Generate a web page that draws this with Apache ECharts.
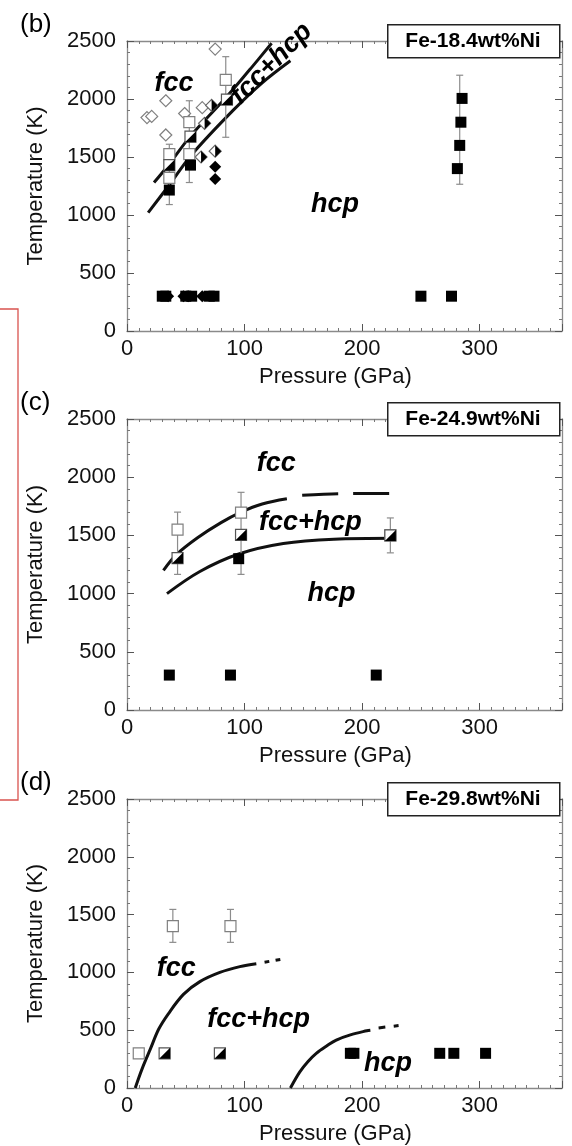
<!DOCTYPE html>
<html><head><meta charset="utf-8">
<script src="https://cdn.jsdelivr.net/npm/echarts@6/dist/echarts.min.js"></script>
<style>html,body{margin:0;padding:0;background:#fff}#c{width:572px;height:1146px}</style>
</head><body><div id="c"></div>
<script>
// ---------------- DATA ----------------
const panelTags = ['(b)', '(c)', '(d)'];
const panelTitles = ['Fe-18.4wt%Ni', 'Fe-24.9wt%Ni', 'Fe-29.8wt%Ni'];
const xTickLabels = [0, 100, 200, 300];
const yTickLabels = [0, 500, 1000, 1500, 2000, 2500];

// Panel (b) Fe-18.4wt%Ni  [pressure GPa, temperature K]
const bOpenDiamond = [[17,1840],[21,1850],[33,1985],[33,1690],[49,1875],[64,1925],[75,2430]];
const bHalfDiamond = [[63,1500],[66,1790],[72,1945],[75,1550]];
const bFilledDiamond = [[75,1415],[75,1310],[35,300],[48,300],[52,300],[64,300]];
const bOpenSquare = [[36,1525],[36,1320],[53,1800],[53,1525],[84,2165]];
const bHalfSquare = [[36,1430],[54,1675],[85,1995]];
const bFilledSquare = [[36,1215],[54,1430],[285,2005],[284,1800],[283,1600],[281,1400],
  [30,300],[33,300],[50,300],[55,300],[70,300],[74,300],[250,300],[276,300]];
const bErrorBars = [[36,1090,1610],[53,1280,1985],[84,1670,2365],[283,1265,2205]];
const bBoundaryUpper = [[23,1280],[36,1440],[54,1680],[84,2010],[105,2260],[123,2480]];
const bBoundaryLower = [[18,1020],[36,1260],[55,1520],[90,1900],[115,2140],[139,2330]];
const bRegionLabels = [['fcc',40,2135,0],['fcc+hcp',123,2305,45],['hcp',177,1086,0]];

// Panel (c) Fe-24.9wt%Ni
const cOpenSquare = [[43,1550],[97,1695],[224,1500]];
const cHalfSquare = [[43,1305],[97,1505],[224,1500]];
const cFilledSquare = [[95,1300],[36,300],[88,300],[212,300]];
const cErrorBars = [[43,1165,1700],[97,1165,1870],[224,1350,1650]];
const cBoundaryUpper = [[31,1200],[42,1335],[60,1480],[80,1610],[97,1700],[115,1770],[136,1815]];
const cBoundaryUpperDashed = [[149,1845],[180,1858],[223,1860]];
const cBoundaryLower = [[34,1000],[62,1190],[95,1340],[133,1430],[176,1467],[227,1475]];
const cRegionLabels = [['fcc',127,2119,0],['fcc+hcp',156,1609,0],['hcp',174,1002,0]];

// Panel (d) Fe-29.8wt%Ni
const dOpenSquare = [[39,1400],[88,1400],[10,300]];
const dHalfSquare = [[32,300],[79,300]];
const dFilledSquare = [[190,300],[193,300],[266,300],[278,300],[305,300]];
const dErrorBars = [[39,1260,1545],[88,1260,1545]];
const dBoundaryUpper = [[7,0],[13,170],[20,340],[27,510],[35,640],[48,810],[62,920],[79,1000],[96,1050],[110,1075]];
const dBoundaryUpperDashed = [[117,1088],[131,1113]];
const dBoundaryLower = [[139,0],[147,140],[154,230],[161,300],[170,365],[178,415],[190,460],[204,495],[207,500]];
const dBoundaryLowerDashed = [[214,520],[231,540]];
const dRegionLabels = [['fcc',42,1035,0],['fcc+hcp',112,588,0],['hcp',222,214,0]];

// ---------------- CHART ----------------
const FONT = "'Liberation Sans', Arial, Helvetica, sans-serif";
const X_MAX = 370, Y_MAX = 2500;
const GRIDS = [{top:41,height:290},{top:419,height:291},{top:799,height:289}];
const AXIS_COLOR = '#8a8a8a';
const FS = 22;

const panels = [
  {openDiamond:bOpenDiamond, halfDiamond:bHalfDiamond, filledDiamond:bFilledDiamond,
   openSquare:bOpenSquare, halfSquare:bHalfSquare, filledSquare:bFilledSquare, err:bErrorBars,
   solid:[bBoundaryUpper,bBoundaryLower], dashed:[], labels:bRegionLabels},
  {openDiamond:[], halfDiamond:[], filledDiamond:[],
   openSquare:cOpenSquare, halfSquare:cHalfSquare, filledSquare:cFilledSquare, err:cErrorBars,
   solid:[cBoundaryUpper,cBoundaryLower], dashed:[[cBoundaryUpperDashed,[36,15]]], labels:cRegionLabels},
  {openDiamond:[], halfDiamond:[], filledDiamond:[],
   openSquare:dOpenSquare, halfSquare:dHalfSquare, filledSquare:dFilledSquare, err:dErrorBars,
   solid:[dBoundaryUpper,dBoundaryLower], dashed:[[dBoundaryUpperDashed,[5,6]],[dBoundaryLowerDashed,[7,8]]], labels:dRegionLabels}
];

const grid = [], xAxis = [], yAxis = [], series = [], graphic = [];

panels.forEach((p, i) => {
  grid.push({left:127, width:435, top:GRIDS[i].top, height:GRIDS[i].height, outerBoundsMode:'none', containLabel:false});
  const xb = {gridIndex:i, type:'value', min:0, max:X_MAX, splitLine:{show:false},
              axisLabel:{show:false}, axisLine:{show:false,onZero:false}};
  const lineOn = {show:true, onZero:false, lineStyle:{color:AXIS_COLOR, width:1.3}};
  xAxis.push(Object.assign({}, xb, {position:'bottom', interval:10, axisLine:lineOn,
      axisTick:{inside:true,length:3,lineStyle:{color:'#777'}},
      axisLabel:{show:true, margin:7, fontSize:FS, color:'#111', fontFamily:FONT,
        formatter: v => xTickLabels.indexOf(v) >= 0 ? String(v) : ''},
      name:'Pressure (GPa)', nameLocation:'middle', nameGap:35,
      nameTextStyle:{fontSize:FS, color:'#111', fontFamily:FONT, padding:[0,18,0,0]}}));
  xAxis.push(Object.assign({}, xb, {position:'bottom', interval:100,
      axisTick:{inside:true,length:7,lineStyle:{color:'#555'}}}));
  xAxis.push(Object.assign({}, xb, {position:'top', interval:10, axisLine:lineOn,
      axisTick:{inside:true,length:3,lineStyle:{color:'#777'}}}));
  xAxis.push(Object.assign({}, xb, {position:'top', interval:100,
      axisTick:{inside:true,length:7,lineStyle:{color:'#555'}}}));
  const yb = {gridIndex:i, type:'value', min:0, max:Y_MAX, interval:500, splitLine:{show:false},
              axisLine:lineOn, axisTick:{inside:true,length:7,lineStyle:{color:'#555'}},
              minorTick:{show:true, splitNumber:5, length:3, lineStyle:{color:'#777'}}};
  yAxis.push(Object.assign({}, yb, {position:'left',
      axisLabel:{show:true, margin:11, fontSize:FS, color:'#111', fontFamily:FONT,
        formatter: v => yTickLabels.indexOf(v) >= 0 ? String(v) : ''},
      name:'Temperature (K)', nameLocation:'middle', nameGap:80,
      nameTextStyle:{fontSize:FS, color:'#111', fontFamily:FONT}}));
  yAxis.push(Object.assign({}, yb, {position:'right', axisLabel:{show:false}}));

  const xi = i*4, yi = i*2;
  const base = {xAxisIndex:xi, yAxisIndex:yi, silent:true, animation:false};

  p.solid.forEach(d => series.push(Object.assign({}, base, {type:'line', data:d, showSymbol:false,
      smooth:0.35, z:3, lineStyle:{color:'#111', width:3}})));
  p.dashed.forEach(([d, dash]) => series.push(Object.assign({}, base, {type:'line', data:d, showSymbol:false,
      smooth:0.3, z:3, lineStyle:{color:'#111', width:3, type:dash}})));

  series.push(Object.assign({}, base, {type:'custom', data:p.err, encode:{x:0, y:[1,2]}, z:4,
    renderItem: (params, api) => {
      const x = api.value(0);
      const a = api.coord([x, api.value(1)]), b = api.coord([x, api.value(2)]);
      const w = 3.5, st = {stroke:'#8c8c8c', lineWidth:1.2, fill:null};
      return {type:'group', children:[
        {type:'line', shape:{x1:a[0],y1:a[1],x2:b[0],y2:b[1]}, style:st},
        {type:'line', shape:{x1:a[0]-w,y1:a[1],x2:a[0]+w,y2:a[1]}, style:st},
        {type:'line', shape:{x1:b[0]-w,y1:b[1],x2:b[0]+w,y2:b[1]}, style:st}]};
    }}));

  const sc = (data, symbol, size, z, itemStyle, extra) => series.push(Object.assign({}, base,
      {type:'scatter', data, symbol, symbolSize:size, z, itemStyle:Object.assign({opacity:1}, itemStyle)}, extra || {}));
  sc(p.openDiamond, 'diamond', 12, 5, {color:'#fff', borderColor:'#808080', borderWidth:1.2});
  sc(p.halfDiamond, 'diamond', 12, 5, {color:'#fff', borderColor:'#666', borderWidth:1.2});
  sc(p.halfDiamond, 'path://M0,0 L1,1 L0,2 Z', [6,12], 6, {color:'#000'}, {symbolOffset:[3,0]});
  sc(p.filledDiamond, 'diamond', 12, 6, {color:'#000'});
  sc(p.openSquare, 'rect', 11, 5, {color:'#fff', borderColor:'#808080', borderWidth:1.2});
  sc(p.halfSquare, 'rect', 11, 6, {color:'#fff', borderColor:'#555', borderWidth:1.2});
  sc(p.halfSquare, 'path://M1,0 L1,1 L0,1 Z', 11, 7, {color:'#000'});
  sc(p.filledSquare, 'rect', 11, 6, {color:'#000'});

  series.push(Object.assign({}, base, {type:'scatter', symbolSize:1, z:8,
      itemStyle:{color:'rgba(0,0,0,0)', opacity:1},
      data:p.labels.map(l => ({value:[l[1], l[2]], name:l[0], label:{rotate:l[3]}})),
      label:{show:true, position:'inside', formatter:q => q.name, fontSize:27, fontWeight:'bold',
        fontStyle:'italic', color:'#000', opacity:1, fontFamily:FONT}}));

  const top = GRIDS[i].top;
  graphic.push({type:'rect', left:387, top:top-17, z:100, shape:{x:0,y:0,width:172,height:33},
      style:{fill:'#fff', stroke:'#222', lineWidth:1.5}});
  graphic.push({type:'text', x:387+86, y:top, z:101, style:{text:panelTitles[i], align:'center', verticalAlign:'middle',
      textAlign:'center', textVerticalAlign:'middle', fill:'#000',
      font:"bold 21px 'Liberation Sans', Arial, sans-serif"}});
  graphic.push({type:'text', left:20, top:top-29, z:100, style:{text:panelTags[i], fill:'#000',
      font:"26px 'Liberation Sans', Arial, sans-serif"}});
});

graphic.push({type:'polyline', z:100, shape:{points:[[0,309],[18,309],[18,800],[0,800]]},
  style:{stroke:'#d9534f', lineWidth:1.3, fill:null}});

const chart = echarts.init(document.getElementById('c'), null, {renderer:'canvas'});
chart.setOption({animation:false, backgroundColor:'#fff', grid, xAxis, yAxis, series, graphic});
</script></body></html>
